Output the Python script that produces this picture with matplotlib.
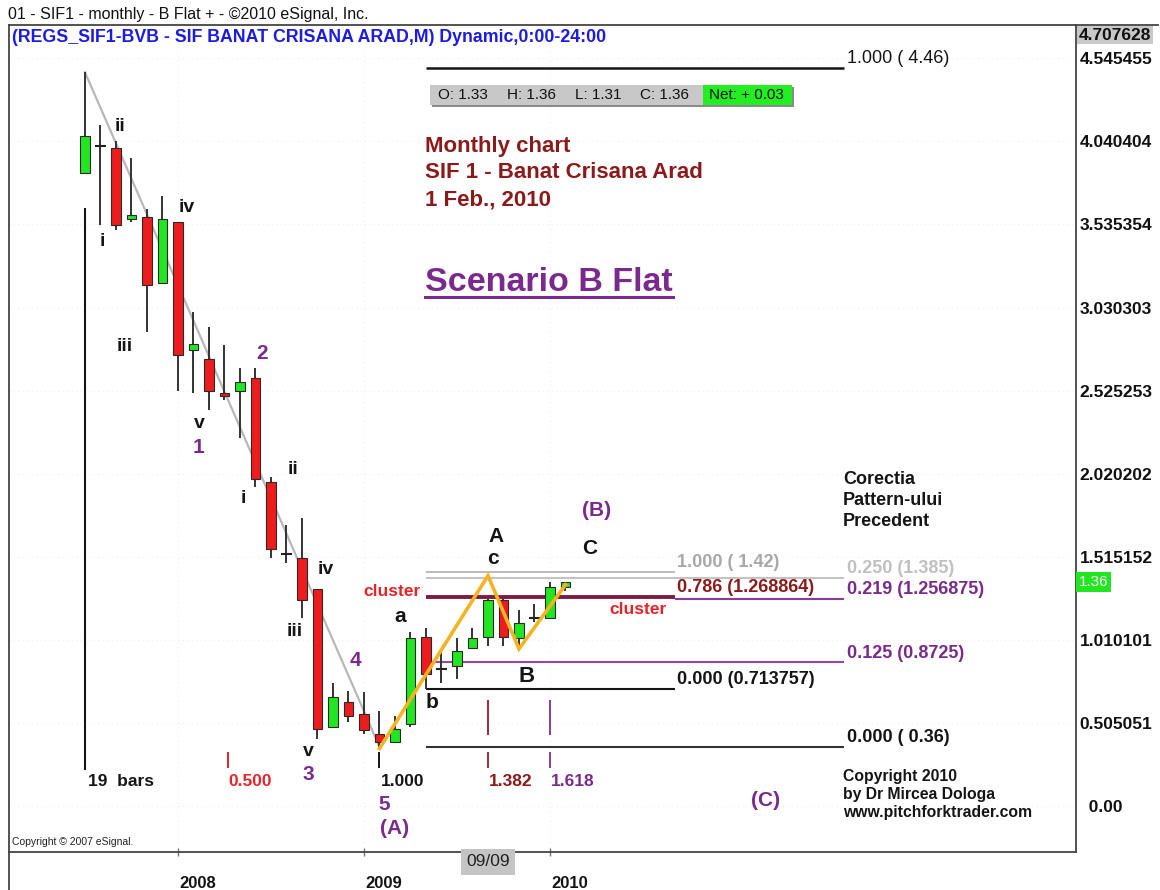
import matplotlib
matplotlib.use('Agg')
import matplotlib.pyplot as plt
from matplotlib.patches import Rectangle
from matplotlib.lines import Line2D
import numpy as np

plt.rcParams['font.family'] = ['Liberation Sans', 'DejaVu Sans']

# ---------------- data ----------------
months = ['Jul 07', 'Aug 07', 'Sep 07', 'Oct 07', 'Nov 07', 'Dec 07',
          'Jan 08', 'Feb 08', 'Mar 08', 'Apr 08', 'May 08', 'Jun 08',
          'Jul 08', 'Aug 08', 'Sep 08', 'Oct 08', 'Nov 08', 'Dec 08',
          'Jan 09', 'Feb 09', 'Mar 09', 'Apr 09', 'May 09', 'Jun 09',
          'Jul 09', 'Aug 09', 'Sep 09', 'Oct 09', 'Nov 09', 'Dec 09',
          'Jan 10', 'Feb 10']
opens = [3.85, 4.01, 4.00, 3.57, 3.58, 3.18, 3.55, 2.77, 2.72, 2.51, 2.52, 2.60,
         1.97, 1.53, 1.51, 1.32, 0.48, 0.63, 0.56, 0.44, 0.39, 0.50, 1.03, 0.83,
         0.85, 0.96, 1.03, 1.25, 1.02, 1.14, 1.14, 1.33]
highs = [4.46, 4.14, 4.04, 3.94, 3.63, 3.71, 3.55, 3.00, 2.91, 2.80, 2.66, 2.66,
         2.00, 1.71, 1.75, 1.32, 0.75, 0.70, 0.69, 0.58, 0.55, 1.06, 1.08, 0.95,
         1.02, 1.08, 1.26, 1.26, 1.19, 1.23, 1.36, 1.36]
lows = [3.85, 3.53, 3.50, 3.55, 2.88, 3.18, 2.52, 2.51, 2.41, 2.47, 2.24, 1.94,
        1.51, 1.48, 1.14, 0.41, 0.48, 0.51, 0.44, 0.36, 0.39, 0.48, 0.714, 0.75,
        0.77, 0.96, 0.97, 0.97, 0.96, 1.12, 1.14, 1.31]
closes = [4.07, 4.01, 3.53, 3.59, 3.17, 3.57, 2.74, 2.81, 2.52, 2.49, 2.58, 1.99,
          1.56, 1.53, 1.25, 0.47, 0.66, 0.55, 0.46, 0.39, 0.47, 1.02, 0.80, 0.83,
          0.94, 1.02, 1.25, 1.03, 1.11, 1.14, 1.33, 1.36]

fib_prices = [4.485, 1.42, 1.385, 1.268864, 1.256875, 0.8725, 0.713757, 0.36]
fib_labels = ['1.000 ( 4.46)', '1.000 ( 1.42)', '0.250 (1.385)', '0.786 (1.268864)',
              '0.219 (1.256875)', '0.125 (0.8725)', '0.000 (0.713757)', '0.000 ( 0.36)']

zig_idx = [19, 26, 28, 31]
zig_price = [0.35, 1.40, 0.955, 1.345]

cycle_pos = [0, 9.2, 19, 26, 30]
cycle_labels = ['19  bars', '0.500', '1.000', '1.382', '1.618']

axis_ticks = [4.545455, 4.040404, 3.535354, 3.030303, 2.525253, 2.020202,
              1.515152, 1.010101, 0.505051, 0.0]
axis_tick_labels = ['4.545455', '4.040404', '3.535354', '3.030303', '2.525253',
                    '2.020202', '1.515152', '1.010101', '0.505051', '  0.00']
year_idx = [6, 18, 30]
year_labels = ['2008', '2009', '2010']

# ---------------- layout ----------------
W, H = 1160, 890
fig = plt.figure(figsize=(W / 100, H / 100), dpi=100)
fig.patch.set_facecolor('white')
L, R, T, B = 9, 1076, 25, 852
ax = fig.add_axes([L / W, 1 - B / H, (R - L) / W, (B - T) / H])
X0, PXB = 85, 15.5          # pixel of bar 0, pixels per bar
Y0, PXP = 806, 164.5        # pixel of price 0, pixels per unit
ax.set_xlim((L - X0) / PXB, (R - X0) / PXB)
ax.set_ylim((Y0 - B) / PXP, (Y0 - T) / PXP)


def P(x, y):
    return ((x - X0) / PXB, (Y0 - y) / PXP)


def ftext(x, y, s, **kw):
    return fig.text(x / W, 1 - y / H, s, **kw)


BLACK = '#151515'
PURPLE = '#7a2a8c'
MAROON = '#8b1a1a'
RED = '#e3242b'
GREEN = '#22e622'
CRED = '#ee1c1c'

# grid (very faint)
for t in axis_ticks:
    ax.axhline(t, color='#f0f0f0', lw=0.8, ls=(0, (1, 3)), zorder=0)
for t in year_idx:
    ax.axvline(t, color='#f0f0f0', lw=0.8, ls=(0, (1, 3)), zorder=0)

# candles
x = np.arange(len(opens))
o = np.array(opens); c = np.array(closes); h = np.array(highs); lo = np.array(lows)
ax.vlines(x, lo, h, color='#333333', lw=1.4, zorder=3)
doji = np.isclose(o, c)
up = (c > o) & ~doji
dn = (c < o) & ~doji
ax.bar(x[up], (c - o)[up], bottom=o[up], width=0.62, color=GREEN,
       edgecolor='#2a2a2a', lw=0.8, zorder=4)
ax.bar(x[dn], (o - c)[dn], bottom=c[dn], width=0.62, color=CRED,
       edgecolor='#2a2a2a', lw=0.8, zorder=4)
ax.hlines(o[doji], x[doji] - 0.38, x[doji] + 0.38, color='#222222', lw=1.5, zorder=4)

# grey trend line from top to bottom of (A)
ax.plot([0, 19], [highs[0], lows[19]], color='#b8b8b8', lw=1.6, zorder=2)

# orange zigzag
ax.plot(zig_idx, zig_price, color='#f4b324', lw=2.6, zorder=5, solid_joinstyle='miter')

# fib lines
short_end, long_end, start = 38.05, 49.0, 22.0
fib_style = [
    (start, long_end, BLACK, 1.8, BLACK, 'normal'),
    (start, short_end, '#b5b5b5', 1.3, '#a8a8a8', 'bold'),
    (start, long_end, '#bdbdbd', 1.3, '#c0c0c0', 'bold'),
    (start, short_end, '#7c1c40', 2.8, MAROON, 'bold'),
    (short_end, long_end, '#8a3c9c', 1.5, PURPLE, 'bold'),
    (start, long_end, '#9548a6', 1.5, PURPLE, 'bold'),
    (start, short_end, BLACK, 1.5, BLACK, 'bold'),
    (start, long_end, '#333333', 1.5, BLACK, 'bold'),
]
for (p, lab, (st, end, lc, lw, tc, fw)) in zip(fib_prices, fib_labels, fib_style):
    ax.hlines(p, st, end, color=lc, lw=lw, zorder=2)
    ax.annotate(lab, (end, p), xytext=(1.5, 6.8), textcoords='offset points',
                ha='left', va='center', fontsize=13, color=tc, fontweight=fw)

# time cycle markers
ax.vlines(cycle_pos[0], P(0, 770)[1], P(0, 208)[1], color=BLACK, lw=1.5)
cyc_col = [BLACK, RED, BLACK, '#a0283c', '#8a3c9c']
for pos, col in zip(cycle_pos[1:], cyc_col[1:]):
    ax.vlines(pos, P(0, 768)[1], P(0, 752)[1], color=col, lw=1.4)
for pos, col in zip(cycle_pos[3:], cyc_col[3:]):
    ax.vlines(pos, P(0, 735)[1], P(0, 700)[1], color=col, lw=1.4)
cyc_txt_col = [BLACK, RED, BLACK, MAROON, PURPLE]
for k, (pos, lab, col) in enumerate(zip(cycle_pos, cycle_labels, cyc_txt_col)):
    xx = pos + (0.2 if k == 0 else 0.08)
    ax.text(xx, P(0, 782)[1], lab, ha='left', va='center', fontsize=12.5,
            fontweight='bold', color=col)

# wave labels
waves = [
    ('ii', 120, 127, BLACK, 14), ('i', 102, 242, BLACK, 14), ('iv', 187, 208, BLACK, 14),
    ('iii', 125, 347, BLACK, 14), ('v', 199, 424, BLACK, 14), ('ii', 293, 470, BLACK, 14),
    ('i', 243, 499, BLACK, 14), ('iv', 326, 569, BLACK, 14), ('iii', 295, 632, BLACK, 14),
    ('v', 308, 752, BLACK, 14),
    ('a', 400, 617, BLACK, 15), ('b', 432, 703, BLACK, 15), ('c', 493, 559, BLACK, 15),
    ('A', 496, 537, BLACK, 15), ('B', 527, 676, BLACK, 16), ('C', 590, 549, BLACK, 15),
    ('1', 199, 448, PURPLE, 15), ('2', 262, 354, PURPLE, 15), ('4', 355, 660, PURPLE, 15),
    ('3', 308, 775, PURPLE, 15), ('5', 384, 805, PURPLE, 15), ('(A)', 395, 828, PURPLE, 15),
    ('(B)', 597, 510, PURPLE, 15), ('(C)', 766, 800, PURPLE, 15),
    ('cluster', 392, 592, RED, 12.5), ('cluster', 638, 610, RED, 12.5),
]
for s, px, py, col, fs in waves:
    ax.text(*P(px, py), s, ha='center', va='center', fontsize=fs,
            fontweight='bold', color=col, zorder=6)

# title block
for s, py in [('Monthly chart', 147), ('SIF 1 - Banat Crisana Arad', 173), ('1 Feb., 2010', 200)]:
    ax.text(*P(425, py), s, ha='left', va='center', fontsize=16, fontweight='bold', color=MAROON)
scen = ax.text(*P(425, 283), 'Scenario B Flat', ha='left', va='center', fontsize=24.5,
               fontweight='bold', color=PURPLE)
for s, py in [('Corectia', 480), ('Pattern-ului', 501), ('Precedent', 522)]:
    ax.text(*P(843, py), s, ha='left', va='center', fontsize=13, fontweight='bold', color=BLACK)
for s, py in [('Copyright 2010', 776), ('by Dr Mircea Dologa', 794), ('www.pitchforktrader.com', 812)]:
    ax.text(*P(843, py), s, ha='left', va='center', fontsize=11.3, fontweight='bold', color=BLACK)
ax.text(*P(12, 842), 'Copyright \u00a9 2007 eSignal.', ha='left', va='center', fontsize=7.5, color='#222222')

# axes / spines
for sp in ax.spines.values():
    sp.set_color('#444444'); sp.set_linewidth(1.3)
ax.yaxis.tick_right()
ax.set_yticks(axis_ticks, axis_tick_labels)
ax.tick_params(axis='y', length=0, pad=2.5, labelsize=12.5, labelcolor='#111111')
for tl in ax.get_yticklabels():
    tl.set_fontweight('bold')
ax.set_xticks(year_idx, ['' for _ in year_idx])
ax.tick_params(axis='x', direction='inout', length=6, color='#777777', width=1)
for i, s in zip(year_idx, year_labels):
    ax.text(i + 1.25, (B - 884) / (B - T), s, transform=ax.get_xaxis_transform(),
            ha='center', va='center', fontsize=12, fontweight='bold', color=BLACK)
ax.text(26, (B - 862) / (B - T), '09/09', transform=ax.get_xaxis_transform(),
        ha='center', va='center', fontsize=12.5, color='#222222',
        bbox=dict(boxstyle='square,pad=0.3', fc='#c4c4c4', ec='none'))
ftext(1079, 35, '4.707628', ha='left', va='center', fontsize=12.5, fontweight='bold',
      color='#111111', bbox=dict(boxstyle='square,pad=0.1', fc='#c8c8c8', ec='none'))
ax.text(1.0025, closes[-1], '1.36', transform=ax.get_yaxis_transform(), ha='left',
        va='center', fontsize=11, color='white',
        bbox=dict(boxstyle='square,pad=0.2', fc='#22e622', ec='none'))

# extra frame lines
fig.add_artist(Line2D([L / W, L / W], [0, 1 - B / H], color='#444444', lw=1.3))
fig.add_artist(Line2D([R / W, 1158 / W], [1 - T / H, 1 - T / H], color='#444444', lw=1.3))

# header texts
ftext(8, 14, '01 - SIF1 - monthly - B Flat + - \u00a92010 eSignal, Inc.', ha='left', va='center',
      fontsize=11.5, color='#111111')
ftext(12, 37, '(REGS_SIF1-BVB - SIF BANAT CRISANA ARAD,M) Dynamic,0:00-24:00', ha='left',
      va='center', fontsize=12.8, fontweight='bold', color='#1c1ce0')

# OHLC box
fig.add_artist(Rectangle((432 / W, 1 - 107 / H), (362) / W, 20 / H, transform=fig.transFigure,
                         fc='#8a8a8a', ec='none'))
fig.add_artist(Rectangle((430 / W, 1 - 105 / H), (273) / W, 20 / H, transform=fig.transFigure,
                         fc='#c8c8c8', ec='none'))
fig.add_artist(Rectangle((703 / W, 1 - 105 / H), (89) / W, 20 / H, transform=fig.transFigure,
                         fc='#22ee22', ec='none'))
ohlc = [('O: 1.33', 438), ('H: 1.36', 507), ('L: 1.31', 575), ('C: 1.36', 640), ('Net: + 0.03', 709)]
for s, px in ohlc:
    ftext(px, 95, s, ha='left', va='center', fontsize=11, color='#111111')

# underline for scenario title
fig.canvas.draw()
bb = scen.get_window_extent()
uy = bb.y0 + 1
fig.add_artist(Line2D([bb.x0 / W, bb.x1 / W], [uy / H, uy / H], color=PURPLE, lw=2.2))

fig.savefig('out.png', dpi=100, facecolor='white')
